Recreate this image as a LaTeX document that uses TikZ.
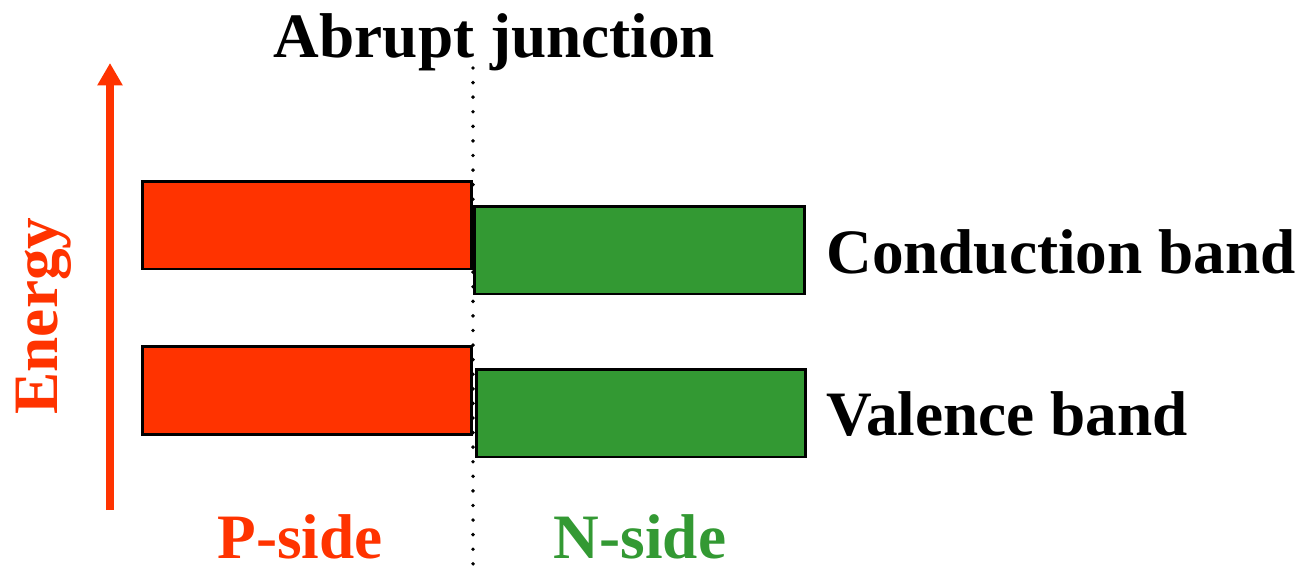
\documentclass[tikz,border=0pt]{standalone}
\usepackage{fontspec}
\setmainfont{Liberation Serif}
\usepackage{xcolor}
\usetikzlibrary{positioning,arrows.meta}
\definecolor{pred}{HTML}{FF3300}
\definecolor{ngreen}{HTML}{339933}

\begin{document}
\begin{tikzpicture}[x=0.02cm,y=-0.02cm,
    every node/.style={font=\fontsize{36}{40}\selectfont\bfseries},
    band/.style={draw=black,line width=1.7pt,inner sep=0pt,outer sep=0pt,
      minimum width=6.6cm,minimum height=1.76cm},
    side/.style={anchor=base,inner sep=0pt}]
  \useasboundingbox (0,0) rectangle (1301,568);
  % energy axis
  \coordinate (ebot) at (110,510);
  \coordinate (etop) at (110,63);
  \draw[pred,line width=4.7pt,-{Triangle[width=13.7pt,length=12.8pt]}] (ebot)--(etop);
  \node[pred,rotate=90,anchor=base] (energy) at (57,316) {Energy};
  % junction plane
  \coordinate (jtop) at (473,68);
  \coordinate (jbot) at (473,568);
  \draw[line width=2.2pt,line cap=round,dash pattern=on 0pt off 8.3pt] (jtop)--(jbot);
  % bands
  \node[band,fill=pred] (pcond) at (307,225) {};
  \node[band,fill=pred] (pval) at (307,390.5) {};
  \node[band,fill=ngreen] (ncond) at (639.5,250) {};
  \node[band,fill=ngreen] (nval) at (641,413) {};
  % labels
  \node[anchor=base] (title) at (494.5,57) {Abrupt junction};
  \node[anchor=base west,inner sep=0pt] (cb) at (826,273) {Conduction band};
  \node[anchor=base west,inner sep=0pt] (vb) at (826,435) {Valence band};
  \node[side,pred] (pside) at (300,558) {P-side};
  \node[side,ngreen] (nside) at (640,558) {N-side};
\end{tikzpicture}
\end{document}
